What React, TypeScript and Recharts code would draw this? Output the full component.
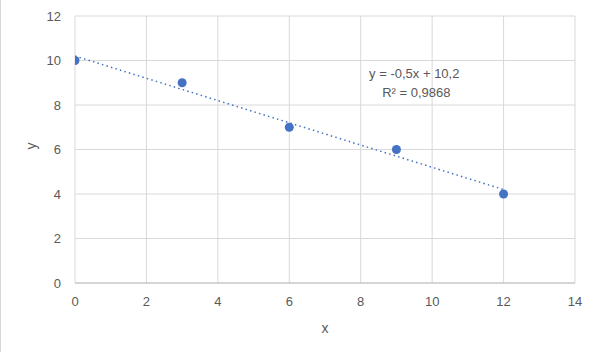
import React from "react";
import {
  ScatterChart,
  Scatter,
  XAxis,
  YAxis,
  CartesianGrid,
  ReferenceDot,
} from "recharts";

const xValues = [0, 3, 6, 9, 12];
const yValues = [10, 9, 7, 6, 4];
const xTicks = [0, 2, 4, 6, 8, 10, 12, 14];
const yTicks = [0, 2, 4, 6, 8, 10, 12];
const trendSlope = -0.5;
const trendIntercept = 10.2;
const trendX = [0, 12];
const equationText = "y = -0,5x + 10,2";
const r2Text = "R² = 0,9868";

const points = xValues.map((x, i) => ({ x, y: yValues[i] }));
const trend = trendX.map((x) => ({ x, y: trendIntercept + trendSlope * x }));

const FONT = "'Liberation Sans', Arial, sans-serif";
const TEXT = "#595959";
const BLUE = "#4472C4";

const EqLabel = (props: any) => {
  const { viewBox } = props;
  const cx = viewBox.x + (viewBox.width || 0) / 2;
  const cy = viewBox.y + (viewBox.height || 0) / 2;
  return (
    <g>
      <text x={cx} y={cy} textAnchor="middle" dominantBaseline="central" fill={TEXT} fontSize={13} fontFamily={FONT}>
        {equationText}
      </text>
      <text x={cx + 2} y={cy + 19} textAnchor="middle" dominantBaseline="central" fill={TEXT} fontSize={13} fontFamily={FONT}>
        {r2Text}
      </text>
    </g>
  );
};

export default function App() {
  return (
    <div style={{ position: "absolute", left: 0, top: 0, width: 598, height: 352, background: "#fff", borderLeft: "1px solid #d9d9d9", boxSizing: "border-box" }}>
      <ScatterChart width={597} height={352} margin={{ top: 16, right: 23, bottom: 24, left: 29 }}>
        <CartesianGrid stroke="#d9d9d9" strokeWidth={1} />
        <XAxis
          type="number"
          dataKey="x"
          domain={[0, 14]}
          ticks={xTicks}
          tickLine={false}
          tickSize={0}
          tickMargin={14}
          axisLine={{ stroke: "#bfbfbf" }}
          tick={{ fill: TEXT, fontSize: 13, fontFamily: FONT }}
          height={45}
          label={{ value: "x", position: "insideBottom", offset: -5, fill: TEXT, fontSize: 14, fontFamily: FONT }}
          allowDataOverflow
        />
        <YAxis
          type="number"
          dataKey="y"
          domain={[0, 12]}
          ticks={yTicks}
          tickLine={false}
          tickSize={0}
          tickMargin={14}
          axisLine={false}
          tick={{ fill: TEXT, fontSize: 13, fontFamily: FONT }}
          width={45}
          label={{ value: "y", angle: -90, position: "insideLeft", offset: 1, fill: TEXT, fontSize: 14, fontFamily: FONT }}
          allowDataOverflow
        />
        <Scatter
          data={trend}
          line={{ stroke: BLUE, strokeWidth: 1.5, strokeDasharray: "1.5 3.2" }}
          shape={() => null}
          isAnimationActive={false}
        />
        <Scatter
          data={points}
          fill={BLUE}
          shape={(p: any) => <circle cx={p.cx} cy={p.cy} r={4.5} fill={BLUE} />}
          isAnimationActive={false}
        />
        <ReferenceDot x={9.5} y={9.4} r={0} fill="none" stroke="none" label={<EqLabel />} isFront />
      </ScatterChart>
    </div>
  );
}
